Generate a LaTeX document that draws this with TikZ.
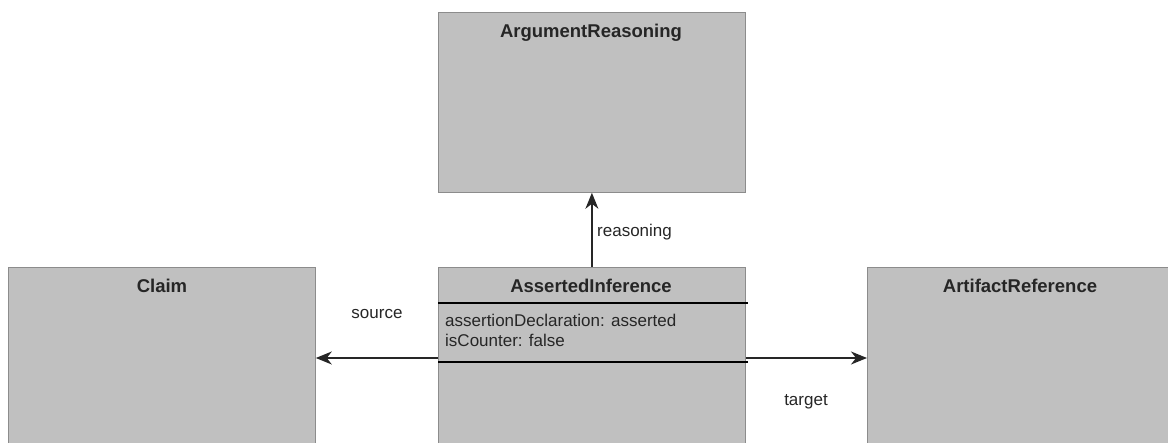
\documentclass[tikz,border=0pt]{standalone}
\usepackage{fontspec}
\setmainfont{Liberation Sans}
\usetikzlibrary{arrows.meta}
\definecolor{boxfill}{HTML}{C0C0C0}
\definecolor{boxline}{HTML}{8C8C8C}
\tikzset{
  classbox/.style={rectangle, fill=boxfill, draw=boxline, line width=0.8pt,
    inner sep=0pt, anchor=north west},
  classtitle/.style={font=\fontsize{18.5}{21}\selectfont\bfseries, text=black!85, inner sep=0pt},
  attrtext/.style={font=\fontsize{17}{20}\selectfont, text=black!85, align=left, inner sep=0pt, anchor=north west},
  rolelabel/.style={font=\fontsize{17}{20}\selectfont, text=black!85, inner sep=0pt},
  divider/.style={black, line width=1.2pt},
  assoc/.style={black!85, line width=1.4pt, -{Stealth[length=16pt,width=13pt,inset=5pt]}}
}
\begin{document}
\begin{tikzpicture}[x=1pt,y=-1pt]
  \useasboundingbox (0,0) rectangle (1168,443);
  \clip (0,0) rectangle (1168,443);

  % class boxes
  \node[classbox, minimum width=307pt, minimum height=180pt] (ar) at (438,12) {};
  \node[classbox, minimum width=307pt, minimum height=190pt] (ai) at (438,267) {};
  \node[classbox, minimum width=307pt, minimum height=190pt] (claim) at (8,267) {};
  \node[classbox, minimum width=310pt, minimum height=190pt] (artref) at (867,267) {};

  % class names
  \node[classtitle] (arT) at (591,33) {ArgumentReasoning};
  \node[classtitle] (aiT) at (591,286) {AssertedInference};
  \node[classtitle] (claimT) at (162,286) {Claim};
  \node[classtitle] (artrefT) at (1020,286) {ArtifactReference};

  % compartments of AssertedInference
  \coordinate (div1) at (0,303);
  \coordinate (div2) at (0,362);
  \draw[divider] (ai.west |- div1) -- ([xshift=2pt]ai.east |- div1);
  \draw[divider] (ai.west |- div2) -- ([xshift=2pt]ai.east |- div2);
  \node[attrtext] (attrs) at (445,314) {assertionDeclaration: asserted\\isCounter: false};

  % associations
  \coordinate (mid) at (0,358);
  \draw[assoc] (ai.north) -- (ar.south);
  \draw[assoc] (ai.west |- mid) -- (claim.east |- mid);
  \draw[assoc] (ai.east |- mid) -- (artref.west |- mid);

  % role names
  \node[rolelabel, anchor=west] (lreason) at (597,232) {reasoning};
  \node[rolelabel] (lsource) at (377,314) {source};
  \node[rolelabel] (ltarget) at (806,402) {target};
\end{tikzpicture}
\end{document}
